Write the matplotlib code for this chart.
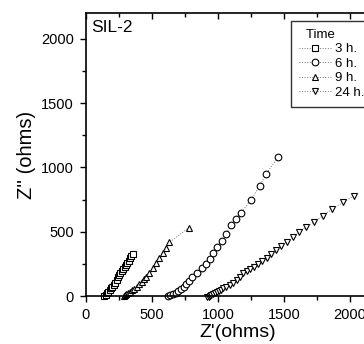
import matplotlib
matplotlib.use("Agg")
import matplotlib.pyplot as plt
from matplotlib.ticker import MultipleLocator

plt.rcParams['font.family'] = ['Liberation Sans', 'DejaVu Sans']

# Nyquist data (Z', Z'' in ohms)
x_3h = [140, 150, 160, 170, 180, 190, 200, 210, 222, 232, 242, 252, 262, 273, 283, 293, 303, 313, 323, 333, 343, 354]
y_3h = [0, 10, 22, 35, 48, 60, 72, 85, 105, 125, 145, 163, 180, 197, 212, 228, 243, 259, 276, 293, 310, 327]

x_6h = [622, 640, 660, 680, 700, 720, 740, 760, 780, 805, 838, 876, 909, 939, 964, 995, 1030, 1061, 1096, 1136, 1174, 1250, 1318, 1364, 1455]
y_6h = [0, 8, 16, 26, 38, 52, 72, 95, 119, 150, 181, 215, 249, 290, 332, 379, 428, 482, 550, 599, 643, 747, 858, 947, 1079]

x_9h = [285, 295, 305, 318, 333, 350, 368, 384, 402, 422, 438, 455, 480, 505, 530, 555, 581, 606, 633, 778]
y_9h = [0, 8, 16, 25, 35, 46, 58, 72, 90, 111, 130, 150, 181, 215, 254, 293, 332, 371, 418, 530]

x_24h = [920, 930, 940, 950, 960, 975, 990, 1005, 1020, 1040, 1065, 1091, 1115, 1141, 1165, 1192, 1218, 1242,
         1273, 1305, 1336, 1369, 1402, 1439, 1477, 1520, 1566, 1616, 1667, 1730, 1798, 1868, 1949, 2033]
y_24h = [-10, -5, 0, 6, 12, 20, 28, 36, 46, 60, 72, 86, 105, 125, 150, 177, 192, 208,
         228, 249, 272, 298, 327, 358, 389, 420, 457, 496, 535, 578, 625, 677, 729, 781]

labels = ['3 h.', '6 h.', '9 h.', '24 h.']
markers = ['s', 'o', '^', 'v']
series = [(x_3h, y_3h), (x_6h, y_6h), (x_9h, y_9h), (x_24h, y_24h)]

fig = plt.figure(figsize=(3.64, 3.44), dpi=100)
ax = fig.add_axes([0.236, 0.1395, 0.834, 0.8225])

for (xs, ys), m, lab in zip(series, markers, labels):
    ax.plot(xs, ys, linestyle=':', color='#777777', linewidth=0.7,
            marker=m, markersize=4.8, markerfacecolor='white',
            markeredgecolor='black', markeredgewidth=0.8, label=lab, clip_on=False)

ax.set_xlim(0, 2300)
ax.set_ylim(0, 2200)
ax.xaxis.set_major_locator(MultipleLocator(500))
ax.xaxis.set_minor_locator(MultipleLocator(250))
ax.yaxis.set_major_locator(MultipleLocator(500))
ax.yaxis.set_minor_locator(MultipleLocator(250))
ax.tick_params(axis='both', which='major', direction='out', length=4, width=1, labelsize=10.5, pad=4.5)
ax.tick_params(axis='both', which='minor', direction='out', length=3, width=1)
ax.tick_params(axis='x', which='both', top=True, labeltop=False)
# top ticks point inward
for tl in ax.xaxis.get_ticklines(minor=False)[1::2] + ax.xaxis.get_ticklines(minor=True)[1::2]:
    tl.set_marker(3)
for sp in ax.spines.values():
    sp.set_linewidth(1.2)

ax.set_xlabel("Z'(ohms)", fontsize=14, labelpad=1.5)
ax.set_ylabel("Z'' (ohms)", fontsize=14.5, labelpad=4)
ax.text(0.017, 0.975, 'SIL-2', transform=ax.transAxes, fontsize=12.5, va='top', ha='left')

leg = ax.legend(title='  Time', loc='upper left', bbox_to_anchor=(0.677, 0.973),
                fontsize=9.5, title_fontsize=9.5, frameon=True, fancybox=False,
                handlelength=2.4, handletextpad=0.3, labelspacing=0.18,
                borderpad=0.6, borderaxespad=0, alignment='left')
leg.get_frame().set_edgecolor('black')
leg.get_frame().set_linewidth(1.0)

fig.savefig('out.png', dpi=100)
